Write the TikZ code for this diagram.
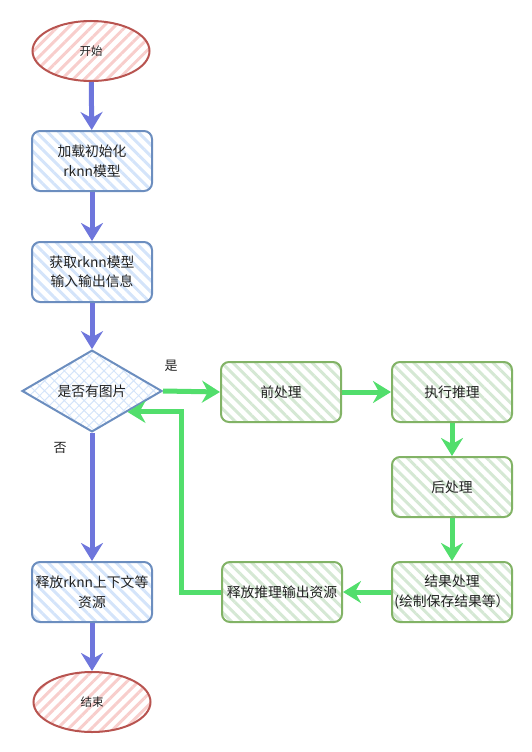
\documentclass[tikz,border=0pt]{standalone}
\usepackage{fontspec}
\setmainfont{Noto Sans CJK SC}
\usetikzlibrary{shapes.geometric,arrows.meta,patterns.meta,calc}
\definecolor{bstroke}{HTML}{6C8EBF}
\definecolor{bfill}{HTML}{D4E4FA}
\definecolor{gstroke}{HTML}{82B366}
\definecolor{gfill}{HTML}{D5E8D4}
\definecolor{rstroke}{HTML}{B85450}
\definecolor{rfill}{HTML}{F8CECC}
\definecolor{ablue}{RGB}{110,118,220}
\definecolor{agreen}{RGB}{82,222,108}
\definecolor{txt}{HTML}{222222}
\tikzset{
  base/.style={draw, line width=2pt, text=txt, align=center, inner sep=0pt,
    font=\fontsize{13.8}{19.5}\selectfont},
  boxshape/.style={base, rectangle, rounded corners=8pt, minimum width=120pt, minimum height=60pt},
  bluebox/.style={boxshape, draw=bstroke,
    preaction={pattern={Lines[angle=-45,distance=8pt,line width=3pt]}, pattern color=bfill}},
  greenbox/.style={boxshape, draw=gstroke,
    preaction={pattern={Lines[angle=-45,distance=8pt,line width=3pt]}, pattern color=gfill}},
  terminal/.style={base, ellipse, draw=rstroke, minimum width=117pt, minimum height=60pt,
    font=\fontsize{11.5}{14}\selectfont,
    preaction={pattern={Lines[angle=45,distance=8pt,line width=3pt]}, pattern color=rfill}},
  decision/.style={base, diamond, draw=bstroke, minimum width=140pt, minimum height=80pt,
    preaction={pattern={Hatch[angle=45,distance=7pt,line width=1pt]}, pattern color=bfill}},
  lbl/.style={text=txt, font=\fontsize{13}{16}\selectfont, inner sep=0pt},
  barrow/.style={line width=5pt, draw=ablue, -{Stealth[length=18pt,width=22pt,inset=6pt,color=ablue]}},
  garrow/.style={line width=5pt, draw=agreen, -{Stealth[length=18pt,width=22pt,inset=6pt,color=agreen]}},
}
\begin{document}
\begin{tikzpicture}[x=1pt,y=-1pt]
\useasboundingbox (0,0) rectangle (532,752);
\node[terminal] (start) at (91,51) {开始};
\node[bluebox] (init) at (92,161) {加载初始化\\rknn模型};
\node[bluebox] (info) at (92,272) {获取rknn模型\\输入输出信息};
\node[decision] (dec) at (92,391) {是否有图片};
\node[greenbox] (pre) at (281,392) {前处理};
\node[greenbox] (infer) at (452,392) {执行推理};
\node[greenbox] (post) at (452,487) {后处理};
\node[greenbox] (res) at (452,592) {结果处理\\(绘制保存结果等）};
\node[greenbox] (rel2) at (282,592) {释放推理输出资源};
\node[bluebox] (rel1) at (92,592) {释放rknn上下文等\\资源};
\node[terminal] (end) at (92,702) {结束};
\node[lbl] (yes) at (171,366) {是};
\node[lbl] (no) at (60,448) {否};
\coordinate (loopend) at ($(dec.east)!0.5!(dec.south)$);

\draw[barrow] (start) -- (init);
\draw[barrow] (init) -- (info);
\draw[barrow] (info) -- (dec);
\draw[barrow] (dec) -- (rel1);
\draw[barrow] (rel1) -- (end);

\draw[garrow] (dec.east) -- (pre.west);
\draw[garrow] (pre) -- (infer);
\draw[garrow] (infer) -- (post);
\draw[garrow] (post) -- (res);
\draw[garrow] (res) -- (rel2);
\draw[garrow] (rel2.west) -- ++(-40,0) |- (loopend);
\end{tikzpicture}
\end{document}
